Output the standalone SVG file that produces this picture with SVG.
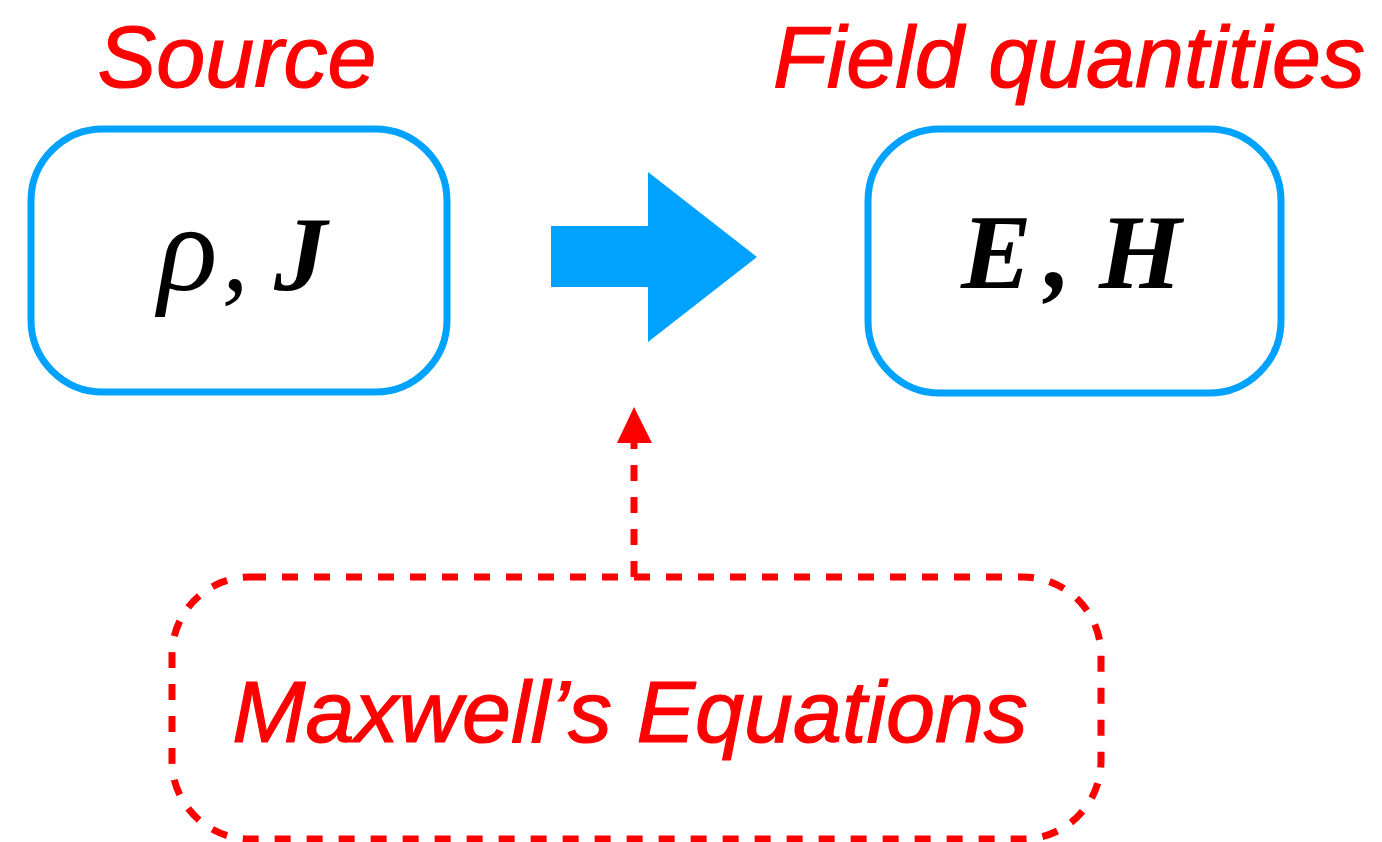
<svg xmlns="http://www.w3.org/2000/svg" width="1382" height="842" viewBox="0 0 1382 842">
<style>
.title{font-family:"Liberation Sans",Arial,sans-serif;font-style:italic;font-size:88px;fill:#FF0000;stroke:#FF0000;stroke-width:1.2}
.box{fill:#FFFFFF;stroke:#00A2FF;stroke-width:7}
.math{font-family:"Liberation Serif","Times New Roman",serif;font-style:italic;font-size:106px;fill:#000000}
.bold{font-weight:bold}
.dash{fill:none;stroke:#FF0000;stroke-width:7;stroke-dasharray:16 16}
</style>
<rect width="1382" height="842" fill="#FFFFFF"/>
<g id="source">
<text class="title" x="237" y="87" text-anchor="middle">Source</text>
<rect class="box" x="31" y="129" width="416" height="263" rx="72" ry="72"/>
<text class="math" y="290"><tspan x="158" font-size="124">ρ</tspan><tspan x="222">,</tspan><tspan class="bold" x="274">J</tspan></text>
</g>
<g id="fields">
<text class="title" x="773" y="87">Field quantities</text>
<rect class="box" x="868" y="129" width="413" height="264" rx="72" ry="72"/>
<text class="math bold" y="288"><tspan x="961">E</tspan><tspan x="1045">,</tspan><tspan x="1099">H</tspan></text>
</g>
<g id="maxwell">
<rect class="dash" x="172" y="577" width="929" height="262" rx="78" ry="78"/>
<text class="title" x="630" y="742" text-anchor="middle">Maxwell’s Equations</text>
</g>
<g id="connectors">
<polygon fill="#00A2FF" points="551,226 648,226 648,172 757,257 648,342 648,287 551,287"/>
<path class="dash" d="M634,577 V443"/>
<polygon fill="#FF0000" points="634,407 617,443 652,443"/>
</g>
</svg>
